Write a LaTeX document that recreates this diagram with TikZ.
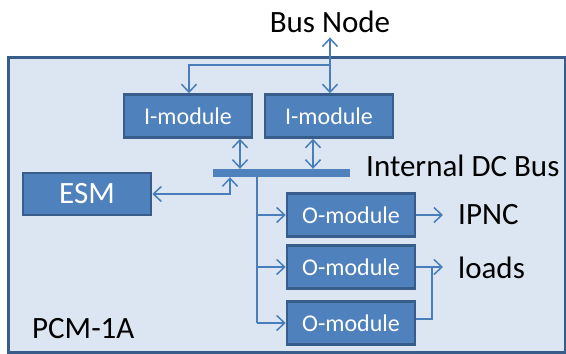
\documentclass[tikz,border=0pt]{standalone}
\usepackage{fontspec}
\setmainfont{Carlito}
\usetikzlibrary{arrows.meta,calc}
\definecolor{panelfill}{RGB}{220,230,242}
\definecolor{panelline}{RGB}{56,93,138}
\definecolor{modfill}{RGB}{79,129,189}
\definecolor{modline}{RGB}{56,93,138}
\definecolor{connc}{RGB}{74,126,187}
\tikzset{
  module/.style={draw=modline, line width=2.5pt, fill=modfill, text=white, inner sep=0pt,
     minimum width=128pt, minimum height=43pt, font=\fontsize{24}{24}\selectfont},
  bigtext/.style={inner sep=0pt, font=\fontsize{31}{31}\selectfont},
  conn/.style={draw=connc, line width=1.5pt},
  tip/.tip={Straight Barb[length=8pt,width=15pt,line width=1.5pt]},
  arr/.style={conn, -tip},
  arrboth/.style={conn, tip-tip}
}
\begin{document}
\begin{tikzpicture}[x=1pt,y=-1pt]
\useasboundingbox (0,0) rectangle (566,354);
% panel
\node[draw=panelline, line width=3pt, fill=panelfill, minimum width=557pt, minimum height=295pt, inner sep=0pt] (panel) at (286.5,204.5) {};
% texts
\node[bigtext, anchor=base] (busnode) at (330,32) {Bus Node};
\node[bigtext, anchor=base west] (dclabel) at (366,176) {Internal DC Bus};
\node[bigtext, anchor=base west] (ipnc) at (458,224) {IPNC};
\node[bigtext, anchor=base west] (loads) at (458,278) {loads};
\node[bigtext, anchor=base west] (pcm) at (32,338) {PCM-1A};
% modules
\node[module] (im1) at (188,116) {I-module};
\node[module] (im2) at (329,116) {I-module};
\node[module, minimum width=128pt, minimum height=42pt, font=\fontsize{31}{31}\selectfont] (esm) at (87,194) {ESM};
\node[module] (om1) at (351,215) {O-module};
\node[module] (om2) at (351,267) {O-module};
\node[module] (om3) at (351,323) {O-module};
% bus bar
\node[fill=modfill, minimum width=137pt, minimum height=8pt, inner sep=0pt] (bus) at (281.5,173) {};
% helper coordinates
\coordinate (jtop) at (330,65);
\coordinate (xa) at (189,0);
\coordinate (xb) at (240,0);
\coordinate (xc) at (313,0);
\coordinate (xd) at (230,0);
\coordinate (xe) at (257,0);
\coordinate (xf) at (443,0);
\coordinate (xg) at (432,0);
\coordinate (yo3) at (0,319);
% connectors
\draw[arrboth] ([yshift=-5pt]busnode.south) -- (busnode.south |- im2.north);
\draw[arr] (jtop) -- (jtop -| xa) -- (xa |- im1.north);
\draw[arrboth] (xb |- im1.south) -- (xb |- bus.north);
\draw[arrboth] (xc |- im2.south) -- (xc |- bus.north);
\draw[arrboth] (esm.east) -- (esm.east -| xd) -- (xd |- bus.south);
\draw[conn] (xe |- bus.south) -- (xe |- om3.west);
\draw[arr] (xe |- om1.west) -- (om1.west);
\draw[arr] (xe |- om2.west) -- (om2.west);
\draw[arr] (xe |- om3.west) -- (om3.west);
\draw[arr] (om1.east) -- (om1.east -| xf);
\draw[arr] (om2.east) -- (om2.east -| xf);
\draw[conn] (om3.east |- yo3) -- (xg |- yo3) -- (xg |- om2.east);
\end{tikzpicture}
\end{document}
